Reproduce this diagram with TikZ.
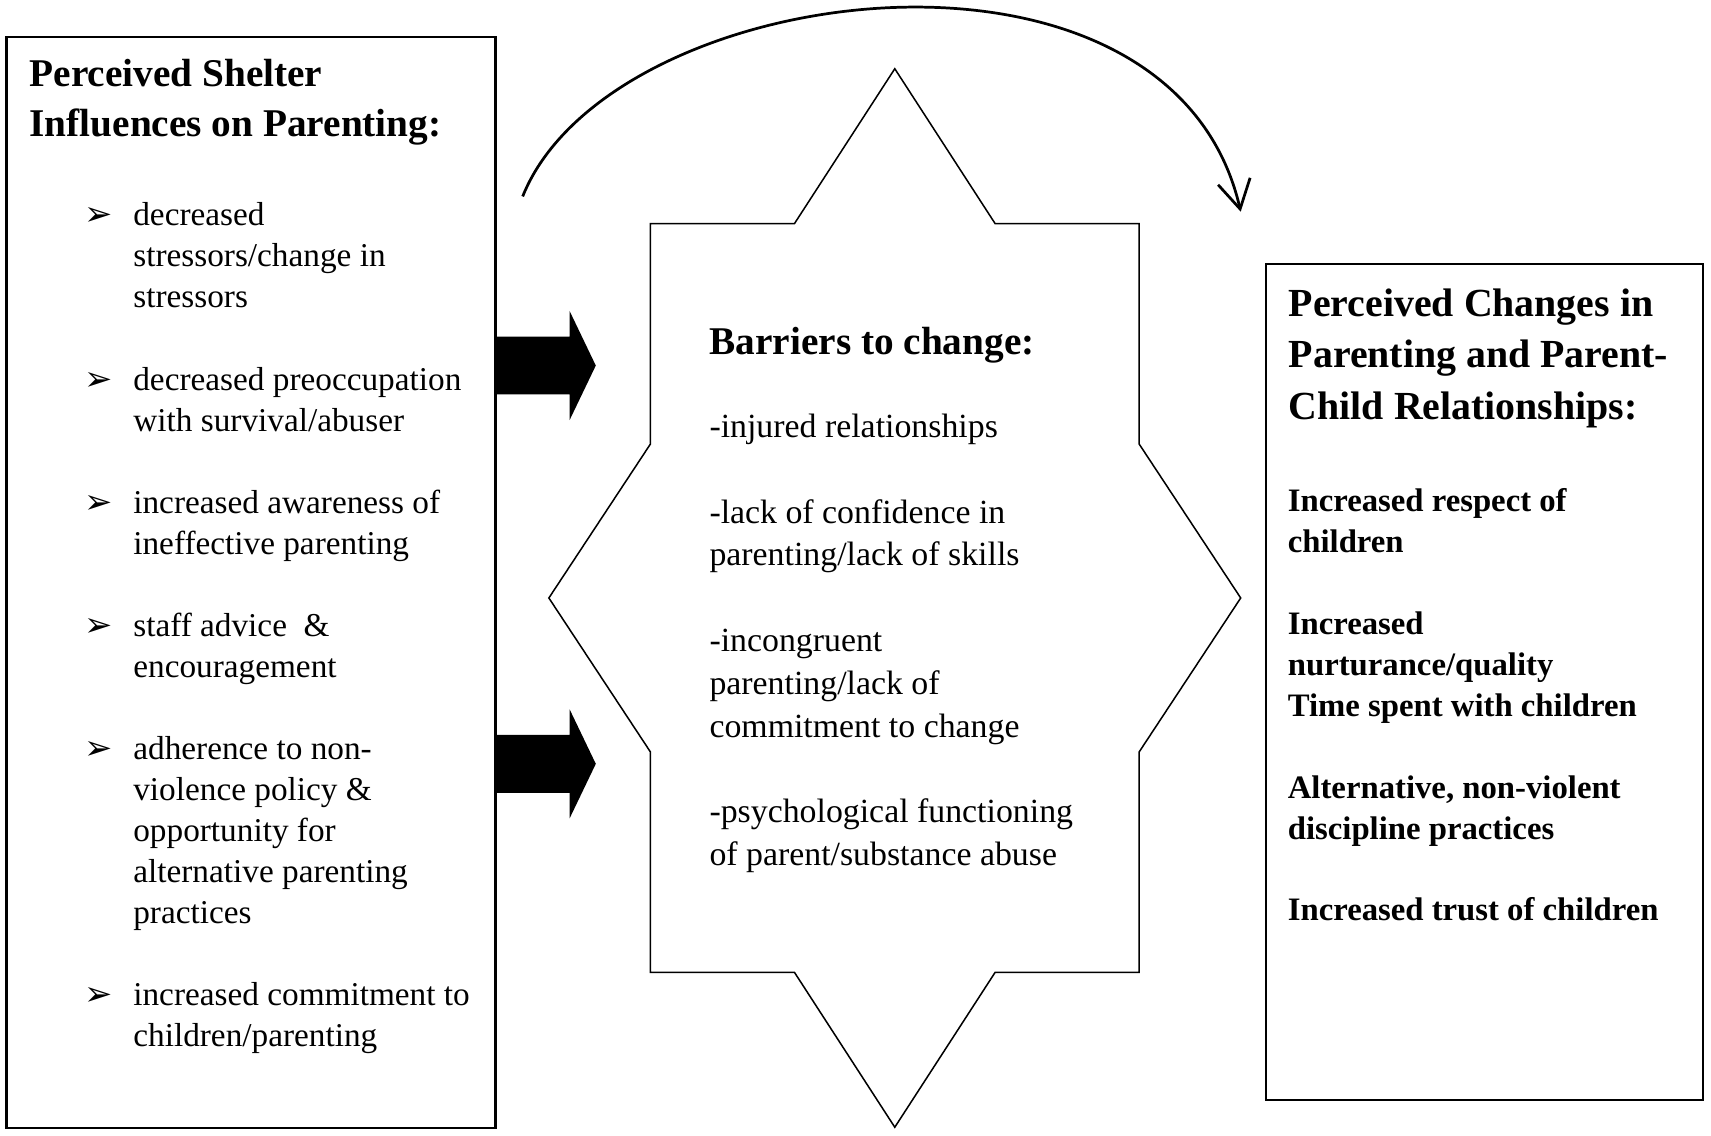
\documentclass[tikz,border=0pt]{standalone}
\usepackage{fontspec}
\setmainfont{Liberation Serif}
\newfontfamily\dingfont{DejaVu Sans}
\usetikzlibrary{arrows.meta, bending, positioning}

\newcommand{\pointer}{\llap{\makebox[45pt][l]{\raisebox{0pt}{\dingfont\fontsize{31}{31}\selectfont ➢}}}}

\tikzset{
    panel/.style={draw, line width=2pt, inner sep=0pt},
    heading/.style={font=\fontsize{36}{46}\selectfont\bfseries, align=left, anchor=base west, inner sep=0pt},
    listtext/.style={font=\fontsize{30.5}{37.6}\selectfont, align=left, anchor=base west, inner sep=0pt},
    starline/.style={draw, line width=1.4pt, line join=miter},
    cycle arrow/.style={line width=2.5pt, -{Straight Barb[length=26pt, width=30pt]}},
    blockarrow/.pic={\fill[black] (0,-26.5) -- (67,-26.5) -- (67,-50) -- (91,0) -- (67,50) -- (67,26.5) -- (0,26.5) -- cycle;}
}

\begin{document}
\begin{tikzpicture}[x=1pt, y=-1pt]
        \useasboundingbox[fill=white] (0,0) rectangle (1568,1041);

        % the three blocks
        \node[panel, minimum width=448pt, minimum height=1000pt, anchor=north west] (shelter) at (5,33) {};
        \node[panel, minimum width=401pt, minimum height=766pt, anchor=north west]  (changes) at (1159,241) {};
        \coordinate (barrier) at (820,548);

        \draw[starline, shift={(820,548)}] (0,-485) -- (92,-343) -- (224,-343) -- (224,-141) -- (317,0)
            -- (224,141) -- (224,343) -- (92,343) -- (0,485) -- (-92,343) -- (-224,343) -- (-224,141)
            -- (-317,0) -- (-224,-141) -- (-224,-343) -- (-92,-343) -- cycle;

        % left block (base = last line)
        \node[heading] (shelterhead) at ([shift={(22,92)}]shelter.north west) {Perceived Shelter\\Influences on Parenting:};
        \node[listtext] (shelterlist) at ([shift={(117,926)}]shelter.north west) {%
            \pointer decreased\\
            stressors/change in\\
            stressors\\[37.6pt]
            \pointer decreased preoccupation\\
            with survival/abuser\\[37.6pt]
            \pointer increased awareness of\\
            ineffective parenting\\[37.6pt]
            \pointer staff advice\ \ \&\\
            encouragement\\[37.6pt]
            \pointer adherence to non-\\
            violence policy \&\\
            opportunity for\\
            alternative parenting\\
            practices\\[37.6pt]
            \pointer increased commitment to\\
            children/parenting};

        % middle block
        \node[heading] (barrierhead) at ([shift={(-170,-223)}]barrier) {Barriers to change:};
        \node[listtext, font=\fontsize{31}{39.2}\selectfont] (barrierlist) at ([shift={(-170,245)}]barrier) {%
            -injured relationships\\[39.2pt]
            -lack of confidence in\\
            parenting/lack of skills\\[39.2pt]
            -incongruent\\
            parenting/lack of\\
            commitment to change\\[39.2pt]
            -psychological functioning\\
            of parent/substance abuse};

        % right block
        \node[heading, font=\fontsize{36.5}{47}\selectfont\bfseries] (changeshead) at ([shift={(22,143)}]changes.north west)
            {Perceived Changes in\\Parenting and Parent-\\Child Relationships:};
        \node[listtext, font=\fontsize{30}{37.5}\selectfont\bfseries] (changeslist) at ([shift={(21,603)}]changes.north west) {%
            Increased respect of\\
            children\\[37.5pt]
            Increased\\
            nurturance/quality\\
            Time spent with children\\[37.5pt]
            Alternative, non-violent\\
            discipline practices\\[37.5pt]
            Increased trust of children};

        % arrows
        \pic at (shelter.east |- 0,335) {blockarrow};
        \pic at (shelter.east |- 0,700) {blockarrow};

        \coordinate (cyclestart) at (479,180);
        \coordinate (cycleend)   at (1137,194);
        \draw[cycle arrow] (cyclestart) .. controls +(80,-200) and +(-60,-280) .. (cycleend);
\end{tikzpicture}
\end{document}
